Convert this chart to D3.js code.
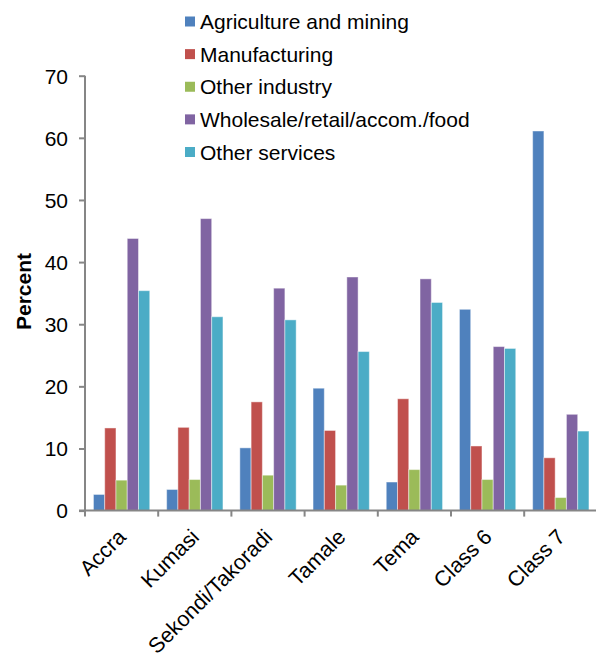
<!DOCTYPE html>
<html>
<head>
<meta charset="utf-8">
<script src="https://cdn.jsdelivr.net/npm/d3@7"></script>
<style>
  html, body { margin: 0; padding: 0; background: #fff; }
  svg { display: block; font-family: "Liberation Sans", Arial, sans-serif; }
</style>
</head>
<body>
<svg id="chart" width="596" height="657"></svg>
<script>
// Employment by sector, percent of workers in each city / class
const categories = ["Accra", "Kumasi", "Sekondi/Takoradi", "Tamale", "Tema", "Class 6", "Class 7"];
const seriesNames = ["Agriculture and mining", "Manufacturing", "Other industry", "Wholesale/retail/accom./food", "Other services"];
const agriculture = [2.6, 3.4, 10.1, 19.7, 4.6, 32.4, 61.1];
const manufacturing = [13.3, 13.4, 17.5, 12.9, 18.0, 10.4, 8.5];
const otherIndustry = [4.9, 5.0, 5.7, 4.1, 6.6, 5.0, 2.1];
const wholesale = [43.8, 47.0, 35.8, 37.6, 37.3, 26.4, 15.5];
const otherServices = [35.4, 31.2, 30.7, 25.6, 33.5, 26.1, 12.8];
const yTicks = [0, 10, 20, 30, 40, 50, 60, 70];
const colors = ["#4F81BD", "#C0504D", "#9BBB59", "#8064A2", "#4BACC6"];

const seriesValues = [agriculture, manufacturing, otherIndustry, wholesale, otherServices];

const svg = d3.select("#chart");
const plotLeft = 85, plotRight = 597.4, plotTop = 75.7, plotBottom = 510.6;

const x = d3.scaleBand().domain(categories).range([plotLeft, plotRight]).paddingInner(0).paddingOuter(0);
const gapRatio = 1.5; // gap between groups relative to one bar
const barW = x.bandwidth() / (seriesNames.length + gapRatio);
const xInner = d3.scaleBand()
  .domain(seriesNames)
  .range([barW * gapRatio / 2, x.bandwidth() - barW * gapRatio / 2]);

const y = d3.scaleLinear().domain([0, 70]).range([plotBottom, plotTop]);

// Bars
seriesNames.forEach((name, si) => {
  svg.append("g")
    .selectAll("rect")
    .data(categories.map((c, i) => ({ c, v: seriesValues[si][i] })))
    .join("rect")
    .attr("x", d => x(d.c) + xInner(name))
    .attr("y", d => y(d.v))
    .attr("width", xInner.bandwidth())
    .attr("height", d => y(0) - y(d.v))
    .attr("fill", colors[si])
    .attr("stroke", "rgba(255,255,255,0.45)")
    .attr("stroke-width", 1);
});

const axisColor = "#868686";

// Y axis
const yAxis = svg.append("g")
  .attr("transform", `translate(${plotLeft},0)`)
  .call(d3.axisLeft(y).tickValues(yTicks).tickSize(6).tickPadding(11).tickFormat(d3.format("d")));
yAxis.select(".domain").attr("stroke", axisColor).attr("stroke-width", 2).attr("d", `M0,${plotTop}V${plotBottom}`);
yAxis.selectAll(".tick line").attr("stroke", axisColor).attr("stroke-width", 2);
yAxis.selectAll(".tick text").attr("fill", "#000").style("font-size", "21px")
  .attr("font-family", "Liberation Sans, Arial, sans-serif").attr("dy", "0.35em");

// X axis: ticks sit on group boundaries
const boundaries = categories.map(c => x(c)).concat([plotRight]);
const xg = svg.append("g");
xg.append("line")
  .attr("x1", plotLeft - 6).attr("x2", 596)
  .attr("y1", plotBottom).attr("y2", plotBottom)
  .attr("stroke", axisColor).attr("stroke-width", 2);
xg.selectAll("line.tk")
  .data(boundaries)
  .join("line")
  .attr("class", "tk")
  .attr("x1", d => d).attr("x2", d => d)
  .attr("y1", plotBottom).attr("y2", plotBottom + 6)
  .attr("stroke", axisColor).attr("stroke-width", 2);

// Category labels, rotated
xg.selectAll("text")
  .data(categories)
  .join("text")
  .attr("transform", d => `translate(${x(d) + x.bandwidth() / 2 - 5},${plotBottom + 17}) rotate(-45)`)
  .attr("text-anchor", "end")
  .attr("dy", "0.7em")
  .attr("fill", "#000")
  .style("font-size", "21.5px")
  .text(d => d);

// Y axis title
svg.append("text")
  .attr("transform", `translate(31,291.5) rotate(-90)`)
  .attr("text-anchor", "middle")
  .attr("font-weight", "bold")
  .attr("fill", "#000")
  .style("font-size", "21px")
  .text("Percent");

// Legend
const legend = svg.append("g");
const legendY = d3.scalePoint().domain(seriesNames).range([21.5, 152]);
seriesNames.forEach((name, i) => {
  const cy = legendY(name);
  legend.append("rect")
    .attr("x", 185).attr("y", cy - 5)
    .attr("width", 10).attr("height", 10)
    .attr("fill", colors[i]);
  legend.append("text")
    .attr("x", 200).attr("y", cy)
    .attr("dy", "0.36em")
    .attr("fill", "#000")
    .style("font-size", "21px")
    .text(name);
});
</script>
</body>
</html>
